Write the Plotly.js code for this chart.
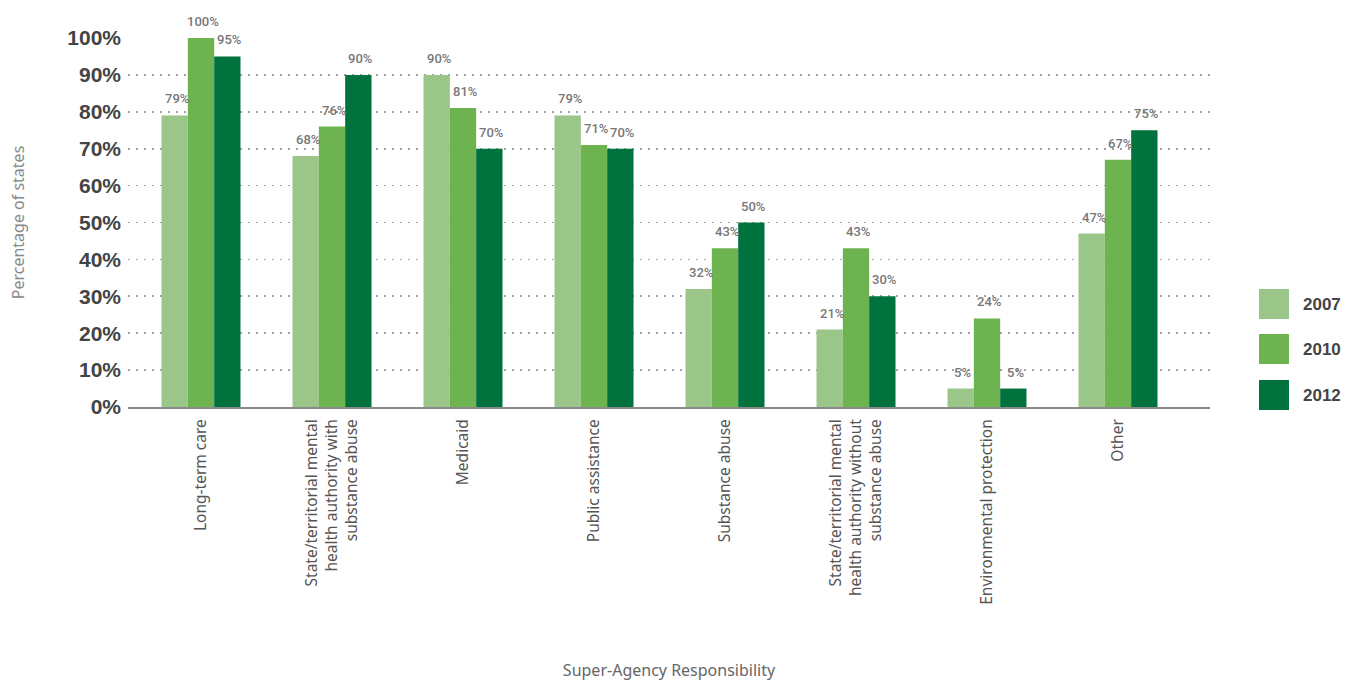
<!DOCTYPE html>
<html>
<head>
<meta charset="utf-8">
<script src="https://cdn.plot.ly/plotly-3.0.1.min.js"></script>
<style>html,body{margin:0;padding:0;background:#fff;}#chart{width:1353px;height:681px;}</style>
</head>
<body>
<div id="chart"></div>
<script>
var categories = [
  "Long-term care",
  "State/territorial mental<br>health authority with<br>substance abuse",
  "Medicaid",
  "Public assistance",
  "Substance abuse",
  "State/territorial mental<br>health authority without<br>substance abuse",
  "Environmental protection",
  "Other"
];
var years = ["2007", "2010", "2012"];
var values2007 = [79, 68, 90, 79, 32, 21, 5, 47];
var values2010 = [100, 76, 81, 71, 43, 43, 24, 67];
var values2012 = [95, 90, 70, 70, 50, 30, 5, 75];
var seriesValues = [values2007, values2010, values2012];
var colors = ["#9bc68a", "#6db34f", "#00723d"];
var yTicks = [0, 10, 20, 30, 40, 50, 60, 70, 80, 90, 100];

var traces = years.map(function (yr, j) {
  return {
    type: "bar", name: yr, x: categories, y: seriesValues[j],
    marker: { color: colors[j], line: { width: 0 } },
    showlegend: false, hoverinfo: "x+y"
  };
});

// Layout geometry (pixels)
var W = 1353, H = 681, L = 128, R = 1210, T = 38, B = 407;
var plotW = R - L, plotH = B - T;
var barW = 26.3;

var labelFont = { family: "Roboto, 'Liberation Sans', sans-serif", weight: 500, size: 13, color: "#777" };
var annotations = [];
years.forEach(function (yr, j) {
  seriesValues[j].forEach(function (v, i) {
    annotations.push({
      xref: "x", yref: "y", x: categories[i], y: v, text: v + "%",
      showarrow: false, yanchor: "bottom", xanchor: "center",
      xshift: (j - 1) * barW + 2, yshift: 7, font: labelFont
    });
  });
});

// Custom legend with large swatches
var shapes = [];
var legTop = [289, 334, 380];
years.forEach(function (yr, j) {
  var y0 = legTop[j], y1 = legTop[j] + 30;
  shapes.push({
    type: "rect", xref: "paper", yref: "paper",
    x0: (1259 - L) / plotW, x1: (1289 - L) / plotW,
    y0: (B - y1) / plotH, y1: (B - y0) / plotH,
    fillcolor: colors[j], line: { width: 0 }
  });
  annotations.push({
    xref: "paper", yref: "paper", x: (1301 - L) / plotW, y: (B - (y0 + 15)) / plotH,
    xanchor: "left", yanchor: "middle", showarrow: false, text: "<b>" + yr + "</b>",
    font: { family: "'Liberation Sans', Arial, sans-serif", size: 17, color: "#444" }
  });
});

var centerPx = 201, stepPx = 131;
var x0 = -(centerPx - L) / stepPx;
var x1 = x0 + plotW / stepPx;

var layout = {
  width: W, height: H,
  margin: { l: L, r: W - R, t: T, b: H - B, pad: 0 },
  paper_bgcolor: "#fff", plot_bgcolor: "#fff",
  barmode: "group", bargap: 0.397, bargroupgap: 0,
  showlegend: false,
  xaxis: {
    type: "category", range: [x0, x1], autorange: false,
    showgrid: false, zeroline: false,
    showline: true, linecolor: "#8a8a8a", linewidth: 2,
    ticks: "", tickangle: -90, ticklabelstandoff: 4,
    tickfont: { family: "'Noto Sans', 'Open Sans', sans-serif", size: 15.5, color: "#555" },
    title: { text: "Super-Agency Responsibility", standoff: 62,
      font: { family: "'Noto Sans', 'Open Sans', sans-serif", size: 16, color: "#666" } }
  },
  yaxis: {
    range: [0, 100], autorange: false,
    tickvals: yTicks, ticktext: yTicks.map(function (t) { return "<b>" + t + "%</b>"; }),
    showgrid: true, gridcolor: "#a0a0a0", gridwidth: 1.6, griddash: "2px,6px",
    zeroline: false, showline: false, ticks: "", ticklabelstandoff: 6,
    tickfont: { family: "'Liberation Sans', Arial, sans-serif", size: 21, color: "#444" },
    title: { text: "Percentage of states", standoff: 38,
      font: { family: "'Noto Sans', 'Open Sans', sans-serif", size: 16, color: "#888" } }
  },
  annotations: annotations,
  shapes: shapes
};

Plotly.newPlot("chart", traces, layout, { displayModeBar: false, staticPlot: true });
</script>
</body>
</html>
